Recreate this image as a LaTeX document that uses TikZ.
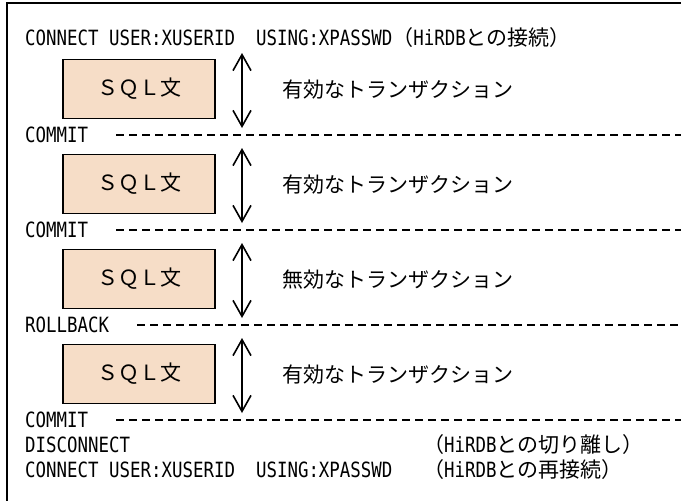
\documentclass[tikz,border=0pt]{standalone}
\usepackage{fontspec}
\usetikzlibrary{arrows.meta}
\newfontfamily\jpfont{Noto Sans CJK JP}
\newfontfamily\ltfont[FakeStretch=0.83]{DejaVu Sans Mono}
\newcommand\txtsize{\fontsize{21}{25}\selectfont}
\definecolor{boxfill}{RGB}{246,221,199}
\tikzset{
  sqlbox/.style={draw, line width=1.2pt, fill=boxfill, minimum width=152pt, minimum height=59pt, inner sep=0pt, font=\jpfont\txtsize},
  lbl/.style={anchor=west, inner sep=0pt, font=\ltfont\txtsize},
  jlbl/.style={anchor=west, inner sep=0pt, font=\jpfont\txtsize},
  txnarrow/.style={{Straight Barb[length=16pt,width=18pt]}-{Straight Barb[length=16pt,width=18pt]}, line width=1.6pt},
  cutline/.style={dash pattern=on 8pt off 5pt, line width=1.5pt}
}
\begin{document}
\begin{tikzpicture}[x=1pt, y=-1pt]
  \useasboundingbox (0,0) rectangle (681,501);
  % frame, cut off at right and bottom
  \coordinate (edge) at (681,3);
  \coordinate (corner) at (7,3);
  \coordinate (foot) at (7,501);
  \draw[line width=1.5pt] (foot) -- (corner) -- (edge);

  \node[lbl] (conn) at (25,38) {CONNECT USER:XUSERID\ \ USING:XPASSWD{\jpfont （}HiRDB{\jpfont との接続）}};

  \foreach \k/\ok/\lbl in {0/有効/COMMIT,1/有効/COMMIT,2/無効/ROLLBACK,3/有効/COMMIT} {
    \node[sqlbox] (box\k) at (139,{89+95*\k}) {ＳＱＬ文};
    \node[jlbl] (txn\k) at (282,{90+95*\k}) {\ok なトランザクション};
    \coordinate (top\k) at (242,{53+95*\k});
    \coordinate (bot\k) at (242,{128+95*\k});
    \draw[txnarrow] (top\k) -- (bot\k);
    \node[lbl] (end\k) at (25,{135+95*\k}) {\lbl};
    \draw[cutline] ([xshift=28pt]end\k.east) -- (end\k.east -| edge);
  }

  \node[lbl] (disc) at (25,445) {DISCONNECT};
  \node[lbl] (reconn) at (25,470) {CONNECT USER:XUSERID\ \ USING:XPASSWD};
  \node[jlbl] (note1) at (423,445) {（{\ltfont HiRDB}との切り離し）};
  \node[jlbl] (note2) at (423,470) {（{\ltfont HiRDB}との再接続）};
\end{tikzpicture}
\end{document}
